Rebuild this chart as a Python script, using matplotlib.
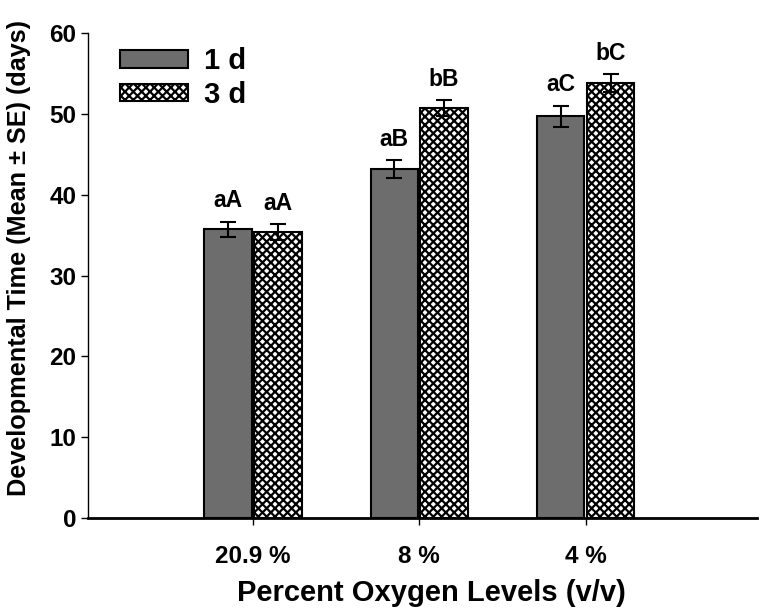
import numpy as np
import matplotlib.pyplot as plt

plt.rcParams['font.family'] = ['Liberation Sans', 'DejaVu Sans']
plt.rcParams['font.weight'] = 'bold'
plt.rcParams['hatch.linewidth'] = 1.6

levels = ["20.9 %", "8 %", "4 %"]
mean_1d = [35.7, 43.2, 49.7]
se_1d = [0.95, 1.1, 1.3]
mean_3d = [35.4, 50.7, 53.8]
se_3d = [1.0, 1.0, 1.1]
letters_1d = ["aA", "aB", "aC"]
letters_3d = ["aA", "bB", "bC"]

fig = plt.figure(figsize=(7.6, 6.11), dpi=100)
ax = fig.add_axes([0.116, 0.152, 0.88, 0.794])

x = np.arange(len(levels))
w = 0.285
off = 0.15

ax.bar(x - off, mean_1d, w, color='#6d6d6d', edgecolor='black', linewidth=1.5, label='1 d')
ax.bar(x + off, mean_3d, w, color='white', edgecolor='black', linewidth=1.5, hatch='xxxx', label='3 d')
ax.errorbar(x - off, mean_1d, yerr=se_1d, fmt='none', ecolor='black', elinewidth=1.5, capsize=6, capthick=1.5)
ax.errorbar(x + off, mean_3d, yerr=se_3d, fmt='none', ecolor='black', elinewidth=1.5, capsize=6, capthick=1.5)

for i in range(len(levels)):
    ax.text(x[i] - off, mean_1d[i] + se_1d[i] + 1.15, letters_1d[i], ha='center', va='bottom', fontsize=16.5, fontweight='bold')
    ax.text(x[i] + off, mean_3d[i] + se_3d[i] + 1.15, letters_3d[i], ha='center', va='bottom', fontsize=16.5, fontweight='bold')

ax.set_xlim(-0.99, 3.03)
ax.set_ylim(0, 60)
ax.set_yticks(range(0, 61, 10))
ax.set_xticks(x)
ax.set_xticklabels(levels)
ax.tick_params(axis='both', labelsize=17.5, direction='out', length=5, width=1)
ax.tick_params(axis='x', pad=14)
for lab in ax.get_xticklabels() + ax.get_yticklabels():
    lab.set_fontweight('bold')
ax.spines['top'].set_visible(False)
ax.spines['right'].set_visible(False)
ax.spines['bottom'].set_linewidth(2)
ax.spines['left'].set_linewidth(1)

ax.set_xlabel("Percent Oxygen Levels (v/v)", fontsize=21, fontweight='bold')
ax.set_ylabel("Developmental Time (Mean ± SE) (days)", fontsize=18.2, fontweight='bold')
ax.xaxis.set_label_coords(0.513, -0.125)
ax.yaxis.set_label_coords(-0.085, 0.536)

ax.legend(loc='upper left', bbox_to_anchor=(0.009, 1.025), frameon=False, fontsize=21,
          handlelength=2.3, handleheight=0.55, handletextpad=0.55, labelspacing=0.2)

fig.savefig("out.png", dpi=100)
